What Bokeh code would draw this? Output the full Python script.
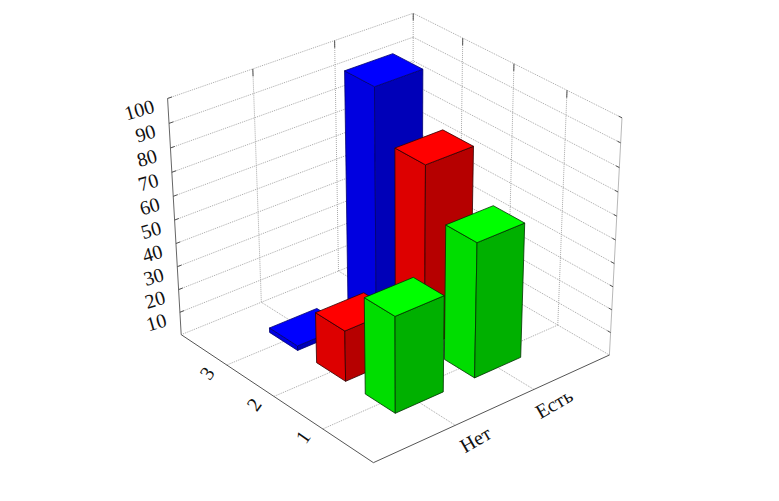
import numpy as np
from bokeh.plotting import figure
from bokeh.embed import file_html
from bokeh.resources import INLINE
from bokeh.core.properties import value

# ---- data ----
categories = ["Нет", "Есть"]
series_labels = ["1", "2", "3"]
z_ticks = [10, 20, 30, 40, 50, 60, 70, 80, 90, 100]
series_1 = [41.5, 58]   # green, front row
series_2 = [22, 78]     # red
series_3 = [2, 98.5]    # blue, back row

# ---- frame of the box ----
X_MAX, Y_MAX, Z_MAX = 3, 4, 100
BAR_HALF = 0.3
frame = [
    ((0, 0, 0), (373, 462)), ((3, 0, 0), (609, 355)), ((0, 4, 0), (180, 334)), ((3, 4, 0), (413, 240)),
    ((0, 4, 100), (167, 98)), ((3, 4, 100), (412, 13)), ((3, 0, 100), (622, 117)),
    ((1, 4, 100), (253, 68)), ((2, 4, 100), (334, 40)),
    ((3, 3, 100), (462, 38)), ((3, 2, 100), (513, 63)), ((3, 1, 100), (567, 90)),
    ((1, 0, 0), (454, 424)), ((2, 0, 0), (533, 389)),
    ((0, 1, 0), (323, 429)), ((0, 2, 0), (273, 396)), ((0, 3, 0), (227, 365)),
]


def fit_projection(pairs):
    A, b = [], []
    for (x, y, z), (u, v) in pairs:
        A.append([x, y, z, 1, 0, 0, 0, 0, -u * x, -u * y, -u * z])
        b.append(u)
        A.append([0, 0, 0, 0, x, y, z, 1, -v * x, -v * y, -v * z])
        b.append(v)
    m = np.linalg.lstsq(np.array(A, float), np.array(b, float), rcond=None)[0]
    return np.append(m, 1).reshape(3, 4)


P = fit_projection(frame)


def proj(x, y, z):
    h = P @ np.array([x, y, z, 1.0])
    return h[0] / h[2], h[1] / h[2]


p = figure(width=763, height=485, x_range=(0, 763), y_range=(485, 0),
           toolbar_location=None, output_backend="svg", min_border=0,
           background_fill_color="white", border_fill_color="white")
p.axis.visible = False
p.grid.visible = False
p.outline_line_color = None


def seg(a, b, color="#a8a8a8", width=1.0, dash="1 1"):
    (x0, y0), (x1, y1) = proj(*a), proj(*b)
    p.line([x0, x1], [y0, y1], line_color=color, line_width=width, line_dash=dash)


TICK = "#555555"
# wall and floor grids
for z in z_ticks:
    seg((0, Y_MAX, z), (X_MAX, Y_MAX, z))
    seg((X_MAX, 0, z), (X_MAX, Y_MAX, z))
for x in range(1, X_MAX):
    seg((x, 0, 0), (x, Y_MAX, 0))
    seg((x, Y_MAX, 0), (x, Y_MAX, Z_MAX))
for y in range(1, Y_MAX):
    seg((0, y, 0), (X_MAX, y, 0))
    seg((X_MAX, y, 0), (X_MAX, y, Z_MAX))
seg((X_MAX, Y_MAX, 0), (X_MAX, Y_MAX, Z_MAX))
seg((0, Y_MAX, 0), (X_MAX, Y_MAX, 0))
seg((X_MAX, 0, 0), (X_MAX, Y_MAX, 0))
seg((X_MAX, 0, 0), (X_MAX, 0, Z_MAX), color="#b8b8b8", dash="solid")

# axes and short ticks
seg((0, 0, 0), (X_MAX, 0, 0), color="#555555", dash="solid")
seg((0, 0, 0), (0, Y_MAX, 0), color="#555555", dash="solid")
seg((0, Y_MAX, 0), (0, Y_MAX, Z_MAX), color="#666666", dash="solid")
for z in z_ticks:
    seg((0, Y_MAX, z), (0.05, Y_MAX, z), color=TICK, dash="solid")
    seg((X_MAX, 0, z), (X_MAX, 0.06, z), color=TICK, dash="solid")
for x in range(1, X_MAX + 1):
    seg((x, Y_MAX, Z_MAX), (x, Y_MAX, Z_MAX - 3), color=TICK, dash="solid")
for y in range(1, Y_MAX):
    seg((X_MAX, y, Z_MAX), (X_MAX, y, Z_MAX - 3), color=TICK, dash="solid")

# bars, far to near
rows = [
    (3, series_3, "#0000ff", "#0000e0", "#0000b8", "#000070"),
    (2, series_2, "#ff0000", "#dd0000", "#b60000", "#300000"),
    (1, series_1, "#00ff00", "#00dd00", "#00b000", "#003000"),
]
bars = []
for depth, vals, top, left, right, edge in rows:
    for i, v in enumerate(vals):
        bars.append((i + 1 + depth, i + 1, depth, v, top, left, right, edge))
bars.sort(key=lambda b: -b[0])


def face(pts, fill, edge):
    xy = [proj(*q) for q in pts]
    p.patch([c[0] for c in xy], [c[1] for c in xy], fill_color=fill, line_color=edge, line_width=0.8)


for _, cx, cy, v, top, left, right, edge in bars:
    x0, x1 = cx - BAR_HALF, cx + BAR_HALF
    y0, y1 = cy - BAR_HALF, cy + BAR_HALF
    face([(x0, y0, 0), (x0, y1, 0), (x0, y1, v), (x0, y0, v)], left, edge)
    face([(x0, y0, 0), (x1, y0, 0), (x1, y0, v), (x0, y0, v)], right, edge)
    face([(x0, y0, v), (x1, y0, v), (x1, y1, v), (x0, y1, v)], top, edge)

# labels
FONT = value("Liberation Serif")


def label(txt, pt, dx, dy, angle_deg, size, align="center"):
    u, v = proj(*pt)
    p.text([u], [v], text=[txt], x_offset=dx, y_offset=dy, angle=np.deg2rad(angle_deg),
           text_align=align, text_baseline="middle", text_font=FONT,
           text_font_size=size, text_color="#111111")


for z in z_ticks:
    label(str(z), (0, Y_MAX, z), -14, 7, 16, "20px", "right")
for y, s in enumerate(series_labels, start=1):
    label(s, (0, y, 0), -20, 8, 55, "20px")
for x, c in enumerate(categories, start=1):
    label(c, (x, 0, 0), 20, 14, 30, "20px")

open("out.html", "w").write(file_html(p, INLINE))
